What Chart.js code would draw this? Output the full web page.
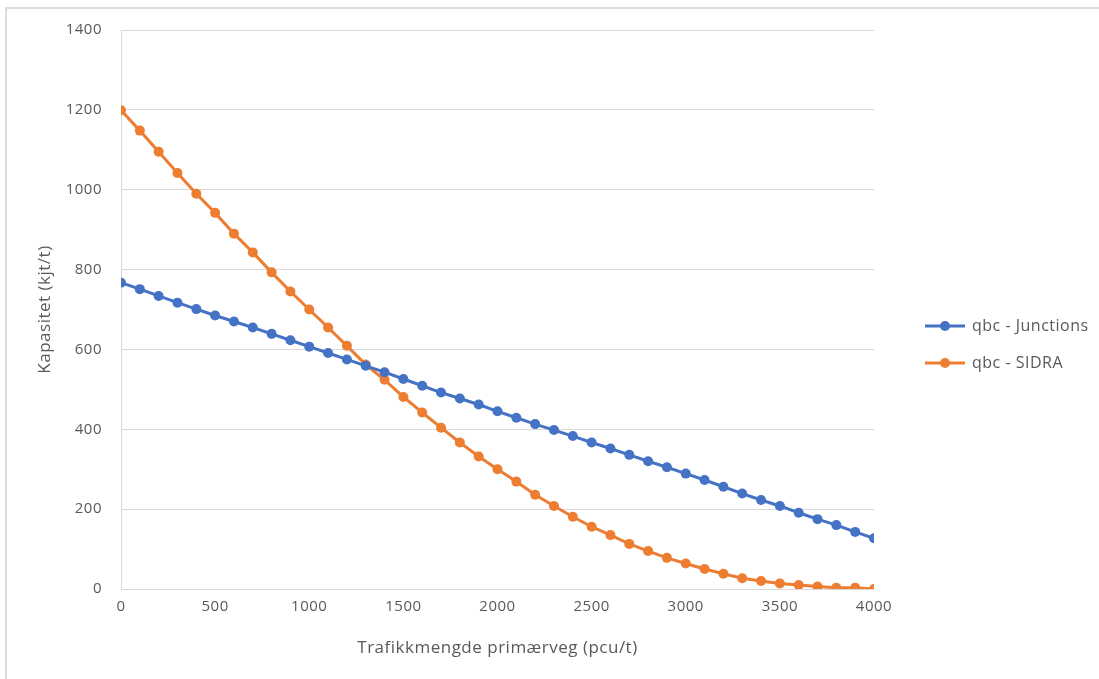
<!DOCTYPE html>
<html>
<head>
<meta charset="utf-8">
<script src="https://cdn.jsdelivr.net/npm/chart.js@4.4.1/dist/chart.umd.min.js"></script>
<style>
  body { margin: 0; background: #fff; }
  #wrap { position: relative; width: 1099px; height: 679px; }
  #frame {
    position: absolute; left: 5px; top: 7px; right: 0; bottom: 0;
    border-left: 2px solid #dcdcdc; border-top: 2px solid #dcdcdc;
    pointer-events: none;
  }
</style>
</head>
<body>
<div id="wrap">
  <canvas id="kapChart" width="1099" height="679"></canvas>
  <div id="frame"></div>
</div>
<script>
// Trafikkmengde på primærveg (pcu/t)
const primaryFlow = [0, 100, 200, 300, 400, 500, 600, 700, 800, 900, 1000,
  1100, 1200, 1300, 1400, 1500, 1600, 1700, 1800, 1900, 2000,
  2100, 2200, 2300, 2400, 2500, 2600, 2700, 2800, 2900, 3000,
  3100, 3200, 3300, 3400, 3500, 3600, 3700, 3800, 3900, 4000];

// Kapasitet sekundærveg (kjt/t)
const qbcJunctions = [767, 751, 734, 717, 701, 685, 670, 655, 639, 623, 607,
  591, 575, 559, 543, 526, 509, 492, 477, 462, 445,
  429, 413, 398, 383, 367, 352, 336, 320, 305, 289,
  273, 256, 239, 223, 208, 191, 175, 160, 143, 127];

const qbcSidra = [1199, 1148, 1095, 1042, 990, 942, 890, 843, 793, 745, 700,
  655, 609, 562, 524, 481, 442, 404, 367, 332, 300,
  269, 236, 208, 181, 156, 135, 113, 95, 78, 64,
  50, 38, 27, 20, 14, 10, 6, 3, 3, 0];

const seriesNames = ['qbc - Junctions', 'qbc - SIDRA'];
const seriesColors = ['#4472C4', '#ED7D31'];

const xTitle = 'Trafikkmengde primærveg (pcu/t)';
const yTitle = 'Kapasitet (kjt/t)';

const textColor = '#595959';
const gridColor = '#d9d9d9';
const fontFamily = '"Open Sans", "Noto Sans", sans-serif';

function toPoints(values) {
  return values.map((v, i) => ({ x: primaryFlow[i], y: v }));
}

// a little extra spacing between letters for all canvas text
const wideText = {
  id: 'wideText',
  beforeDraw(chart) { chart.ctx.letterSpacing = '0.5px'; }
};

// legend at the right: short line with a marker, then the series name
const sideLegend = {
  id: 'sideLegend',
  afterDraw(chart) {
    const ctx = chart.ctx;
    const x0 = 925;
    const rows = [326, 363];
    ctx.save();
    chart.data.datasets.forEach((ds, i) => {
      const y = rows[i];
      ctx.strokeStyle = ds.borderColor;
      ctx.lineWidth = 3;
      ctx.beginPath();
      ctx.moveTo(x0, y);
      ctx.lineTo(x0 + 40, y);
      ctx.stroke();
      ctx.fillStyle = ds.borderColor;
      ctx.beginPath();
      ctx.arc(x0 + 20, y, 5, 0, Math.PI * 2);
      ctx.fill();
      ctx.fillStyle = textColor;
      ctx.font = '16px ' + fontFamily;
      ctx.letterSpacing = '0.5px';
      ctx.textBaseline = 'middle';
      ctx.fillText(ds.label, x0 + 47, y);
    });
    ctx.restore();
  }
};

const plain = v => String(v);

const ctx = document.getElementById('kapChart').getContext('2d');
new Chart(ctx, {
  type: 'line',
  data: {
    datasets: [
      {
        label: seriesNames[0],
        data: toPoints(qbcJunctions),
        borderColor: seriesColors[0],
        backgroundColor: seriesColors[0],
        borderWidth: 3,
        pointRadius: 5,
        pointBorderWidth: 0,
        tension: 0
      },
      {
        label: seriesNames[1],
        data: toPoints(qbcSidra),
        borderColor: seriesColors[1],
        backgroundColor: seriesColors[1],
        borderWidth: 3,
        pointRadius: 5,
        pointBorderWidth: 0,
        tension: 0
      }
    ]
  },
  options: {
    responsive: false,
    animation: false,
    layout: { padding: { left: 0, top: 30, right: 225, bottom: 0 } },
    plugins: {
      legend: { display: false },
      tooltip: { enabled: false }
    },
    scales: {
      x: {
        type: 'linear',
        min: 0,
        max: 4000,
        ticks: {
          stepSize: 500,
          callback: plain,
          color: textColor,
          font: { family: fontFamily, size: 15 },
          padding: 9,
          maxRotation: 0
        },
        grid: { display: false, drawTicks: false },
        border: { display: true, color: gridColor, width: 1 },
        title: {
          display: true,
          text: xTitle,
          color: textColor,
          font: { family: fontFamily, size: 17 },
          padding: { top: 0, bottom: 21 }
        },
        afterFit(scale) { scale.height = 90; }
      },
      y: {
        min: 0,
        max: 1400,
        ticks: {
          stepSize: 200,
          callback: plain,
          color: textColor,
          font: { family: fontFamily, size: 15 },
          padding: 19
        },
        grid: { color: gridColor, lineWidth: 1, drawTicks: false },
        border: { display: true, color: gridColor, width: 1 },
        title: {
          display: true,
          text: yTitle,
          color: textColor,
          font: { family: fontFamily, size: 17 },
          padding: { top: 35, bottom: 0 }
        },
        afterFit(scale) { scale.width = 121; }
      }
    }
  },
  plugins: [wideText, sideLegend]
});
</script>
</body>
</html>
